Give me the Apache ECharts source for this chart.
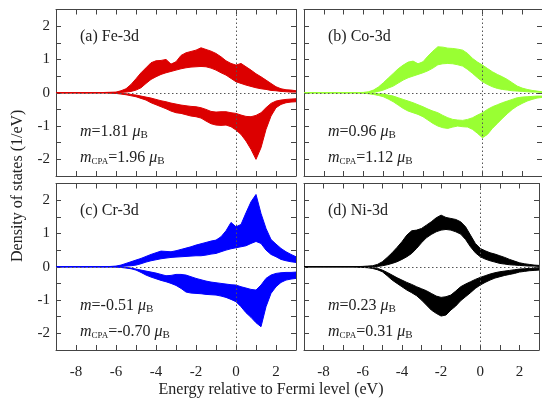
<!DOCTYPE html>
<html><head><meta charset="utf-8">
<script src="https://cdn.jsdelivr.net/npm/echarts@6/dist/echarts.min.js"></script>
<style>html,body{margin:0;padding:0;background:#fff}#c{width:542px;height:401px}</style>
</head><body><div id="c"></div>
<script>
// Energy grid (eV relative to Fermi level)
const energy = [-9,-8,-7,-6.5,-6,-5.75,-5.5,-5.25,-5,-4.75,-4.5,-4.25,-4,-3.75,-3.5,-3.25,-3,-2.75,-2.5,-2.25,-2,-1.75,-1.5,-1.25,-1,-0.75,-0.5,-0.25,0,0.25,0.5,0.75,1,1.25,1.5,1.75,2,2.25,2.5,2.75,3];

// Envelopes of the bundle of curves (upper / lower edge), spin-up (positive) and spin-down (negative)
const feUpHi = [0,0,0,0.01,0.02,0.06,0.12,0.25,0.42,0.6,0.75,0.9,0.96,0.97,1.0,0.86,0.93,1.12,1.2,1.24,1.28,1.35,1.3,1.25,1.18,1.08,0.96,0.88,0.83,0.88,0.78,0.68,0.57,0.48,0.38,0.28,0.18,0.12,0.09,0.08,0.06];
const feUpLo = [0,0,0,0,0,0.01,0.02,0.04,0.08,0.15,0.28,0.4,0.48,0.55,0.6,0.64,0.68,0.72,0.75,0.77,0.78,0.79,0.78,0.74,0.68,0.6,0.53,0.43,0.33,0.28,0.23,0.19,0.15,0.12,0.1,0.07,0.06,0.04,0.03,0.02,0.02];
const feDnHi = [0,0,0,0,-0.01,-0.02,-0.03,-0.05,-0.07,-0.1,-0.13,-0.16,-0.2,-0.24,-0.27,-0.31,-0.34,-0.37,-0.39,-0.41,-0.42,-0.45,-0.5,-0.56,-0.58,-0.57,-0.57,-0.6,-0.62,-0.67,-0.71,-0.72,-0.68,-0.6,-0.45,-0.32,-0.25,-0.22,-0.2,-0.19,-0.18];
const feDnLo = [0,0,0,0,-0.02,-0.04,-0.06,-0.09,-0.12,-0.17,-0.22,-0.3,-0.36,-0.42,-0.48,-0.55,-0.6,-0.62,-0.66,-0.7,-0.72,-0.76,-0.85,-0.93,-0.97,-0.98,-0.97,-1.02,-1.12,-1.25,-1.45,-1.7,-2.0,-1.65,-1.1,-0.7,-0.45,-0.35,-0.3,-0.28,-0.27];

const coUpHi = [0,0,0,0,0.01,0.03,0.08,0.17,0.3,0.44,0.58,0.72,0.83,0.92,0.95,0.87,0.93,1.1,1.25,1.38,1.37,1.34,1.33,1.31,1.28,1.18,1.03,0.92,0.83,0.73,0.63,0.55,0.48,0.4,0.3,0.2,0.14,0.1,0.07,0.05,0.03];
const coUpLo = [0,0,0,0,0,0,0.01,0.04,0.08,0.14,0.2,0.29,0.38,0.45,0.5,0.55,0.6,0.66,0.74,0.84,0.87,0.88,0.87,0.84,0.8,0.7,0.58,0.45,0.33,0.25,0.18,0.13,0.1,0.08,0.06,0.05,0.04,0.03,0.02,0.02,0.01];
const coDnHi = [0,0,0,0,-0.01,-0.01,-0.02,-0.03,-0.04,-0.07,-0.1,-0.15,-0.2,-0.25,-0.3,-0.36,-0.42,-0.49,-0.55,-0.6,-0.68,-0.75,-0.8,-0.82,-0.83,-0.8,-0.75,-0.67,-0.6,-0.5,-0.42,-0.36,-0.3,-0.25,-0.2,-0.15,-0.13,-0.12,-0.11,-0.1,-0.1];
const coDnLo = [0,0,0,0,-0.01,-0.03,-0.05,-0.08,-0.12,-0.19,-0.27,-0.37,-0.47,-0.55,-0.6,-0.65,-0.72,-0.82,-0.92,-1.0,-1.05,-1.07,-1.03,-1.0,-1.02,-1.03,-1.1,-1.22,-1.35,-1.25,-1.07,-0.92,-0.77,-0.63,-0.5,-0.4,-0.32,-0.25,-0.2,-0.16,-0.14];

const crUpHi = [0,0,0,0,0.02,0.05,0.1,0.15,0.2,0.25,0.31,0.37,0.42,0.47,0.46,0.45,0.48,0.52,0.56,0.6,0.65,0.69,0.73,0.77,0.8,0.9,1.08,1.33,1.2,1.27,1.62,1.95,2.17,1.6,1.15,0.82,0.68,0.55,0.45,0.37,0.3];
const crUpLo = [0,0,0,0,0,0.01,0.02,0.03,0.05,0.09,0.14,0.18,0.21,0.24,0.26,0.28,0.29,0.3,0.31,0.32,0.33,0.33,0.35,0.38,0.4,0.45,0.5,0.54,0.57,0.6,0.63,0.7,0.76,0.7,0.5,0.37,0.3,0.22,0.18,0.15,0.13];
const crDnHi = [0,0,0,0,0,-0.01,-0.02,-0.04,-0.07,-0.1,-0.13,-0.16,-0.19,-0.23,-0.27,-0.26,-0.23,-0.23,-0.25,-0.3,-0.35,-0.39,-0.43,-0.46,-0.48,-0.5,-0.52,-0.54,-0.55,-0.6,-0.64,-0.68,-0.7,-0.55,-0.35,-0.25,-0.2,-0.18,-0.17,-0.17,-0.16];
const crDnLo = [0,0,0,0,-0.01,-0.02,-0.04,-0.06,-0.1,-0.17,-0.25,-0.31,-0.36,-0.41,-0.45,-0.5,-0.56,-0.65,-0.76,-0.79,-0.8,-0.81,-0.83,-0.84,-0.85,-0.88,-0.92,-0.98,-1.05,-1.2,-1.38,-1.52,-1.68,-1.8,-1.2,-0.8,-0.6,-0.47,-0.4,-0.37,-0.35];

const niUpHi = [0,0,0,0,0.01,0.02,0.03,0.07,0.15,0.28,0.42,0.58,0.75,0.95,1.08,1.1,1.15,1.25,1.35,1.47,1.55,1.48,1.45,1.42,1.35,1.2,0.95,0.7,0.55,0.48,0.42,0.38,0.33,0.28,0.22,0.17,0.12,0.09,0.07,0.05,0.04];
const niUpLo = [0,0,0,0,0,0,0,0.01,0.03,0.06,0.1,0.15,0.22,0.3,0.4,0.55,0.72,0.87,0.97,1.05,1.1,1.12,1.1,1.05,0.98,0.82,0.6,0.42,0.3,0.23,0.18,0.14,0.1,0.08,0.06,0.05,0.04,0.03,0.02,0.02,0.01];
const niDnHi = [0,0,0,0,-0.01,-0.01,-0.02,-0.05,-0.1,-0.17,-0.25,-0.33,-0.4,-0.47,-0.53,-0.6,-0.66,-0.72,-0.8,-0.88,-0.92,-0.9,-0.85,-0.73,-0.6,-0.52,-0.45,-0.38,-0.32,-0.27,-0.22,-0.18,-0.15,-0.13,-0.11,-0.09,-0.07,-0.06,-0.05,-0.05,-0.04];
const niDnLo = [0,0,0,0,-0.02,-0.03,-0.05,-0.09,-0.15,-0.27,-0.4,-0.5,-0.6,-0.7,-0.78,-0.87,-1.0,-1.15,-1.3,-1.4,-1.48,-1.45,-1.3,-1.18,-1.02,-0.9,-0.78,-0.65,-0.55,-0.47,-0.4,-0.34,-0.3,-0.26,-0.23,-0.2,-0.16,-0.14,-0.12,-0.11,-0.1];

// Panel labels and moments
const panelTitles = ['(a) Fe-3d', '(b) Co-3d', '(c) Cr-3d', '(d) Ni-3d'];
const momentM = ['1.81', '0.96', '-0.51', '0.23'];
const momentCPA = ['1.96', '1.12', '-0.70', '0.31'];
const panelColors = ['#dc0000', '#99ff33', '#0000ff', '#000000'];

// Tick labels
const xTickLabels = [-8, -6, -4, -2, 0, 2];
const yTickLabels = [-2, -1, 0, 1, 2];

const bands = [
  [feUpHi, feUpLo, feDnHi, feDnLo],
  [coUpHi, coUpLo, coDnHi, coDnLo],
  [crUpHi, crUpLo, crDnHi, crDnLo],
  [niUpHi, niUpLo, niDnHi, niDnLo]
];

const FONT = 'Liberation Serif';
const AX = '#444';
const gridPos = [
  { left: 56, top: 9.5 }, { left: 304, top: 9.5 },
  { left: 56, top: 183.5 }, { left: 304, top: 183.5 }
];
const GW = 240, GH = 166.5;

const grid = gridPos.map(g => ({ left: g.left, top: g.top, width: GW, height: GH, containLabel: false }));
const xAxis = [], yAxis = [], series = [], graphic = [];

// band polygon: upper edge left->right, lower edge right->left, mapped through the axes
function bandRenderer(color) {
  return function (params, api) {
    if (params.dataIndex !== 0) return null;
    const n = params.dataInsideLength;
    const top = [], bot = [];
    for (let k = 0; k < n; k++) {
      const e = api.value(0, k);
      top.push(api.coord([e, api.value(1, k)]));
      bot.push(api.coord([e, api.value(2, k)]));
    }
    const pts = top.concat(bot.reverse());
    return { type: 'polygon', shape: { points: pts },
      style: { fill: color, stroke: color, lineWidth: 1 }, silent: true };
  };
}

gridPos.forEach((g, i) => {
  const common = { type: 'value', gridIndex: i, min: -9, max: 3, interval: 1,
    axisLine: { show: true, onZero: false, lineStyle: { color: AX, width: 1 } },
    axisTick: { show: true, inside: true, length: 5, lineStyle: { color: AX } },
    splitLine: { show: false } };
  xAxis.push(Object.assign({}, common, { position: 'bottom',
    axisLabel: { show: i >= 2, margin: 15, fontFamily: FONT, fontSize: 15, color: '#222',
      formatter: v => xTickLabels.includes(Math.round(v * 100) / 100) ? String(v) : '' } }));
  xAxis.push(Object.assign({}, common, { position: 'top', axisLabel: { show: false } }));
  const ycommon = { type: 'value', gridIndex: i, min: -2.5, max: 2.5, interval: 0.5,
    axisLine: { show: true, onZero: false, lineStyle: { color: AX, width: 1 } },
    axisTick: { show: true, inside: true, length: 5, lineStyle: { color: AX } },
    splitLine: { show: false } };
  yAxis.push(Object.assign({}, ycommon, { position: 'left',
    axisLabel: { show: i % 2 === 0, margin: 6, fontFamily: FONT, fontSize: 15, color: '#222',
      formatter: v => yTickLabels.includes(Math.round(v * 100) / 100) ? String(v) : '' } }));
  yAxis.push(Object.assign({}, ycommon, { position: 'right', axisLabel: { show: false } }));

  const col = panelColors[i];
  const [upHi, upLo, dnHi, dnLo] = bands[i];
  const xi = 2 * i, yi = 2 * i;

  // dotted reference lines (x = 0, y = 0) drawn beneath the bands
  series.push({ type: 'line', xAxisIndex: xi, yAxisIndex: yi, data: [[-9, 0]], symbol: 'none', silent: true, z: 1,
    lineStyle: { opacity: 0 },
    markLine: { silent: true, symbol: 'none', animation: false, label: { show: false },
      lineStyle: { type: [1.5, 2.5], color: '#555', width: 1 },
      data: [{ xAxis: 0 }, { yAxis: 0 }] } });

  series.push({ type: 'custom', xAxisIndex: xi, yAxisIndex: yi, z: 3, silent: true, clip: true,
    data: energy.map((e, k) => [e, upHi[k], upLo[k]]),
    encode: { x: 0, y: [1, 2] }, renderItem: bandRenderer(col) });
  series.push({ type: 'custom', xAxisIndex: xi, yAxisIndex: yi, z: 3, silent: true, clip: true,
    data: energy.map((e, k) => [e, dnHi[k], dnLo[k]]),
    encode: { x: 0, y: [1, 2] }, renderItem: bandRenderer(col) });

  // panel title
  graphic.push({ type: 'text', left: g.left + 24, top: g.top + 19, z: 10,
    style: { text: panelTitles[i], font: '16px "' + FONT + '"', fill: '#222' } });
  const rich = {
    i: { fontFamily: FONT, fontSize: 16, fontStyle: 'italic', fill: '#222', lineHeight: 18 },
    n: { fontFamily: FONT, fontSize: 16, fill: '#222', lineHeight: 18 },
    s: { fontFamily: FONT, fontSize: 11, fill: '#222', lineHeight: 11, verticalAlign: 'bottom' },
    c: { fontFamily: FONT, fontSize: 9, fill: '#222', lineHeight: 10, verticalAlign: 'bottom' }
  };
  graphic.push({ type: 'text', left: g.left + 24, top: g.top + 114, z: 10,
    style: { text: '{i|m}{n|=' + momentM[i] + ' }{i|μ}{s|B}', rich: rich } });
  graphic.push({ type: 'text', left: g.left + 24, top: g.top + 140, z: 10,
    style: { text: '{i|m}{c|CPA}{n|=' + momentCPA[i] + ' }{i|μ}{s|B}', rich: rich } });
});

graphic.push({ type: 'text', left: 'center', top: 382, z: 10,
  style: { text: 'Energy relative to Fermi level (eV)', font: '16px "' + FONT + '"', fill: '#222' } });
graphic.push({ type: 'text', z: 10, rotation: Math.PI / 2, x: 10, y: 262, originX: 0, originY: 0,
  style: { text: 'Density of states (1/eV)', font: '16px "' + FONT + '"', fill: '#222' } });

const chart = echarts.init(document.getElementById('c'), null, { renderer: 'canvas' });
chart.setOption({ animation: false, backgroundColor: '#fff', grid, xAxis, yAxis, series, graphic });
</script>
</body></html>
